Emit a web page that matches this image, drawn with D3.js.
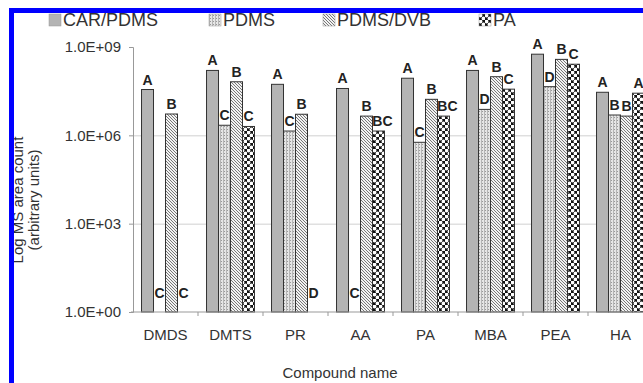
<!DOCTYPE html>
<html>
<head>
<meta charset="utf-8">
<script src="https://cdn.jsdelivr.net/npm/d3@7"></script>
<style>
  body { margin: 0; background: #fff; overflow: hidden; }
  svg { display: block; font-family: "Liberation Sans", Arial, sans-serif; }
  .axis path, .axis line { stroke: #999; }
  .axis text { fill: #333; font-size: 15px; }
  .grid line { stroke: #d0d0d0; }
  .grid path { stroke: none; }
</style>
</head>
<body>
<script>
// Chart data
const categories = ["DMDS", "DMTS", "PR", "AA", "PA", "MBA", "PEA", "HA"];
const series = ["CAR/PDMS", "PDMS", "PDMS/DVB", "PA"];
const carPdms = [3.6e7, 1.6e8, 5.4e7, 3.9e7, 8.7e7, 1.6e8, 5.7e8, 2.9e7];
const pdms = [1, 2.2e6, 1.4e6, 1, 5.8e5, 7.6e6, 4.5e7, 4.9e6];
const pdmsDvb = [5.3e6, 6.6e7, 5.2e6, 4.5e6, 1.67e7, 9.8e7, 3.8e8, 4.5e6];
const pa = [1, 2.0e6, 1, 1.4e6, 4.5e6, 3.7e7, 2.6e8, 2.7e7];
const carLetters = ["A", "A", "A", "A", "A", "A", "A", "A"];
const pdmsLetters = ["C", "C", "C", "C", "C", "D", "D", "B"];
const dvbLetters = ["B", "B", "B", "B", "B", "B", "B", "B"];
const paLetters = ["C", "C", "D", "BC", "BC", "C", "C", "A"];
const yTicks = [1, 1e3, 1e6, 1e9];
const yTickLabels = ["1.0E+00", "1.0E+03", "1.0E+06", "1.0E+09"];

const values = [carPdms, pdms, pdmsDvb, pa];
const letters = [carLetters, pdmsLetters, dvbLetters, paLetters];

// margins: plot is wider than the window, right side gets cut like the scan
var margin = { top: 47, left: 133 },
    width = 65 * categories.length,
    height = 265;

var svg = d3.select("body").append("svg")
    .attr("width", 643)
    .attr("height", 383);

// fill patterns for the four fibres
var defs = svg.append("defs");
var pDots = defs.append("pattern").attr("id", "p1")
    .attr("patternUnits", "userSpaceOnUse").attr("width", 3).attr("height", 3);
pDots.append("rect").attr("width", 3).attr("height", 3).attr("fill", "#e6e6e6");
pDots.append("rect").attr("width", 1).attr("height", 3).attr("fill", "#b5b5b5");
pDots.append("rect").attr("x", 1).attr("y", 1).attr("width", 1).attr("height", 1).attr("fill", "#999");

var pHatch = defs.append("pattern").attr("id", "p2")
    .attr("patternUnits", "userSpaceOnUse").attr("width", 3).attr("height", 3);
pHatch.append("rect").attr("width", 3).attr("height", 3).attr("fill", "#f2f2f2");
pHatch.append("path").attr("d", "M-1,-1 L4,4 M-1,2 L1,4 M2,-1 L4,1")
    .attr("stroke", "#777").attr("stroke-width", 1);

var pCirc = defs.append("pattern").attr("id", "p3")
    .attr("patternUnits", "userSpaceOnUse").attr("width", 6).attr("height", 6);
pCirc.append("rect").attr("width", 6).attr("height", 6).attr("fill", "#111");
pCirc.append("circle").attr("cx", 1.5).attr("cy", 1.5).attr("r", 1.9).attr("fill", "#fff");
pCirc.append("circle").attr("cx", 4.5).attr("cy", 4.5).attr("r", 1.9).attr("fill", "#fff");

const fills = ["#b4b4b4", "url(#p1)", "url(#p2)", "url(#p3)"];

var g = svg.append("g")
    .attr("transform", "translate(" + margin.left + "," + margin.top + ")");

var x0 = d3.scaleBand().domain(categories).range([0, width]);
var x1 = d3.scaleBand().domain(series).range([0, x0.bandwidth()]).paddingOuter(0.71);
var y = d3.scaleLog().domain([1, 1e9]).range([height, 0]);

// grid lines at 1E+03 and 1E+06
g.append("g")
    .attr("class", "grid")
    .call(d3.axisLeft(y).tickValues([1e3, 1e6]).tickSize(-width).tickFormat(""));

// reshape into one record per bar
var bars = [];
categories.forEach(function (c, i) {
    series.forEach(function (s, j) {
        bars.push({ cat: c, ser: s, value: values[j][i], letter: letters[j][i], k: j });
    });
});

g.selectAll(".bar")
    .data(bars.filter(d => d.value > 1))
    .enter()
    .append("rect")
    .attr("class", "bar")
    .attr("x", d => x0(d.cat) + x1(d.ser))
    .attr("y", d => y(d.value))
    .attr("width", x1.bandwidth())
    .attr("height", d => height - y(d.value))
    .attr("fill", d => fills[d.k])
    .attr("stroke", "#333")
    .attr("stroke-width", 1);

// significance letters
g.selectAll(".lbl")
    .data(bars)
    .enter()
    .append("text")
    .attr("class", "lbl")
    .attr("x", d => x0(d.cat) + x1(d.ser) + x1.bandwidth() / 2 + (d.letter.length > 1 ? 4 : 0))
    .attr("y", d => d.value > 1 ? y(d.value) - 5 : height - 14)
    .attr("text-anchor", "middle")
    .attr("font-size", "14px")
    .attr("font-weight", "bold")
    .attr("fill", "#222")
    .text(d => d.letter);

// axes
g.append("g")
    .attr("class", "axis")
    .attr("transform", "translate(0," + height + ")")
    .call(d3.axisBottom(x0).tickSize(0).tickPadding(17))
    .call(a => a.select(".domain").attr("d", "M-2,0H" + width));

// category dividers below the x axis
g.append("g")
    .attr("class", "axis")
    .selectAll("line")
    .data(categories.slice(1))
    .enter()
    .append("line")
    .attr("x1", d => x0(d)).attr("x2", d => x0(d))
    .attr("y1", height).attr("y2", height + 4);

g.append("g")
    .attr("class", "axis")
    .call(d3.axisLeft(y).tickValues(yTicks).tickSize(4).tickPadding(8)
        .tickFormat((d, i) => yTickLabels[i]));

// axis titles
svg.append("text")
    .attr("transform", "rotate(-90)")
    .attr("x", -200).attr("y", 23)
    .attr("text-anchor", "middle")
    .attr("font-size", "15px")
    .attr("fill", "#333")
    .text("Log MS area count");
svg.append("text")
    .attr("transform", "rotate(-90)")
    .attr("x", -200).attr("y", 39)
    .attr("text-anchor", "middle")
    .attr("font-size", "15px")
    .attr("fill", "#333")
    .text("(arbitrary units)");

svg.append("text")
    .attr("x", 340).attr("y", 378)
    .attr("text-anchor", "middle")
    .attr("font-size", "15px")
    .attr("fill", "#333")
    .text("Compound name");

// legend across the top
const legendX = [49, 209, 323, 479];
var legend = svg.selectAll(".legend")
    .data(series)
    .enter()
    .append("g")
    .attr("transform", (d, i) => "translate(" + legendX[i] + ",14)");
legend.append("rect")
    .attr("width", 12).attr("height", 12)
    .attr("fill", (d, i) => fills[i])
    .attr("stroke", "#999").attr("stroke-width", 0.5);
legend.append("text")
    .attr("x", 14).attr("y", 12)
    .attr("font-size", "18px")
    .attr("fill", "#333")
    .text(d => d);

// blue frame from the scan, drawn last so it sits on top
svg.append("rect").attr("x", 9).attr("y", 8).attr("width", 5).attr("height", 375).attr("fill", "#0000ff");
svg.append("rect").attr("x", 9).attr("y", 8).attr("width", 634).attr("height", 5).attr("fill", "#0000ff");
</script>
</body>
</html>
